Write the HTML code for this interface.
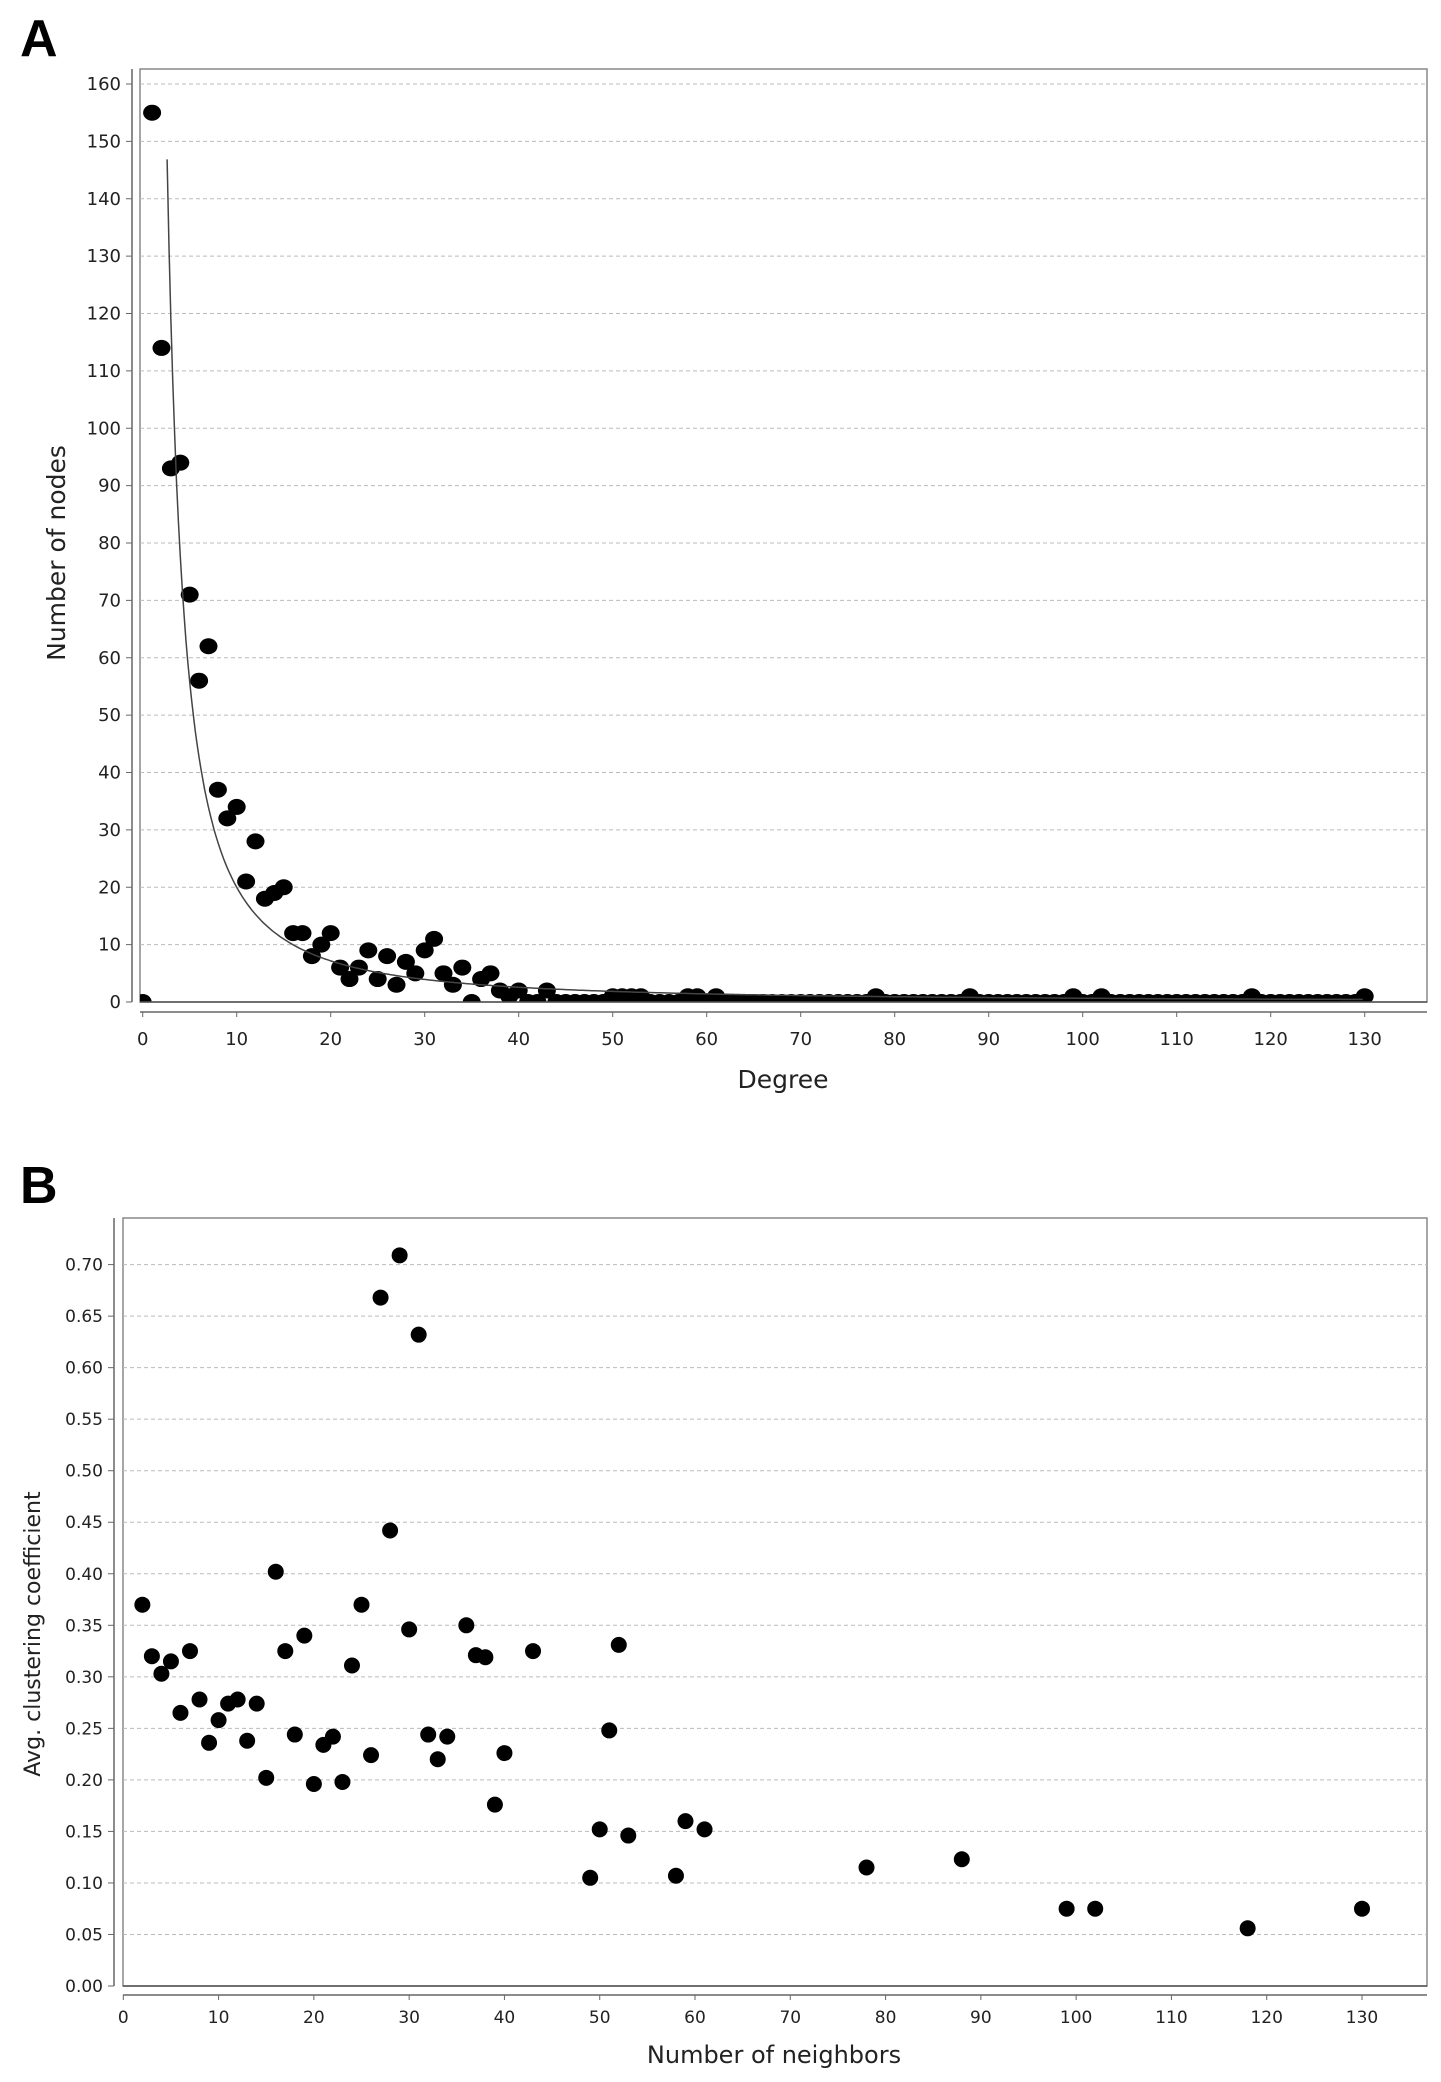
<!DOCTYPE html>
<html><head><meta charset="utf-8"><style>
html,body{margin:0;padding:0;background:#fff;}
svg{display:block;font-family:"DejaVu Sans","Liberation Sans",sans-serif;}
</style></head><body>
<svg id="s" width="1441" height="2082" viewBox="0 0 1441 2082" xmlns="http://www.w3.org/2000/svg">
<defs>
<clipPath id="clipA"><rect x="140" y="69" width="1287" height="933"/></clipPath>
<clipPath id="clipB"><rect x="123" y="1218" width="1304" height="768"/></clipPath>
</defs>
<text x="20" y="56" font-size="52" font-weight="bold" font-family="Liberation Sans, sans-serif">A</text>
<text x="20" y="1203" font-size="52" font-weight="bold" font-family="Liberation Sans, sans-serif">B</text>
<g id="ga"></g>
<g id="gb"></g>
</svg>
<script>
const degA=[0,1,2,3,4,5,6,7,8,9,10,11,12,13,14,15,16,17,18,19,20,21,22,23,24,25,26,27,28,29,30,31,32,33,34,35,36,37,38,39,40,41,42,43,44,45,46,47,48,49,50,51,52,53,54,55,56,57,58,59,60,61,62,63,64,65,66,67,68,69,70,71,72,73,74,75,76,77,78,79,80,81,82,83,84,85,86,87,88,89,90,91,92,93,94,95,96,97,98,99,100,101,102,103,104,105,106,107,108,109,110,111,112,113,114,115,116,117,118,119,120,121,122,123,124,125,126,127,128,129,130];
const countA=[0,155,114,93,94,71,56,62,37,32,34,21,28,18,19,20,12,12,8,10,12,6,4,6,9,4,8,3,7,5,9,11,5,3,6,0,4,5,2,1,2,0,0,2,0,0,0,0,0,0,1,1,1,1,0,0,0,0,1,1,0,1,0,0,0,0,0,0,0,0,0,0,0,0,0,0,0,0,1,0,0,0,0,0,0,0,0,0,1,0,0,0,0,0,0,0,0,0,0,1,0,0,1,0,0,0,0,0,0,0,0,0,0,0,0,0,0,0,1,0,0,0,0,0,0,0,0,0,0,0,1];
const fitA=[604,1.48]; // y = a * x^-b
const ticksAX=[0,10,20,30,40,50,60,70,80,90,100,110,120,130];
const ticksAY=[0,10,20,30,40,50,60,70,80,90,100,110,120,130,140,150,160];
const nbB=[2,3,4,5,6,7,8,9,10,11,12,13,14,15,16,17,18,19,20,21,22,23,24,25,26,27,28,29,30,31,32,33,34,36,37,38,39,40,43,49,50,51,52,53,58,59,61,78,88,99,102,118,130];
const ccB=[0.37,0.32,0.303,0.315,0.265,0.325,0.278,0.236,0.258,0.274,0.278,0.238,0.274,0.202,0.402,0.325,0.244,0.34,0.196,0.234,0.242,0.198,0.311,0.37,0.224,0.668,0.442,0.709,0.346,0.632,0.244,0.22,0.242,0.35,0.321,0.319,0.176,0.226,0.325,0.105,0.152,0.248,0.331,0.146,0.107,0.16,0.152,0.115,0.123,0.075,0.075,0.056,0.075];
const ticksBX=[0,10,20,30,40,50,60,70,80,90,100,110,120,130];
const ticksBY=[0,0.05,0.1,0.15,0.2,0.25,0.3,0.35,0.4,0.45,0.5,0.55,0.6,0.65,0.7];
const NS='http://www.w3.org/2000/svg';
function mk(p,t,a){const e=document.createElementNS(NS,t);for(const k in a)e.setAttribute(k,a[k]);p.appendChild(e);return e;}
// Chart A
(function(){
const g=document.getElementById('ga');
const L=140,T=69,R=1427,B=1002;
const xs=v=>142.7+v*(1364.7-142.7)/130, ys=v=>1002-v*(1002-84)/160;
let f=mk(g,'rect',{x:L,y:T,width:R-L,height:B-T,fill:'#fff',stroke:'#888','stroke-width':1.5});


ticksAY.forEach(v=>{
 let l=mk(g,'line',{x1:L,x2:R,y1:ys(v),y2:ys(v),stroke:'#bbb','stroke-dasharray':'4,3','stroke-width':1});
 
 
 mk(g,'line',{x1:126,x2:132,y1:ys(v),y2:ys(v),stroke:'#666'});
 let t=mk(g,'text',{x:121,y:ys(v)+6,'font-size':18,'text-anchor':'end',fill:'#222'});t.textContent=v;
 
 
});
mk(g,'line',{x1:132,x2:132,y1:T,y2:B,stroke:'#666','stroke-width':1.5});
mk(g,'line',{x1:L,x2:R,y1:1012,y2:1012,stroke:'#666','stroke-width':1.5});
ticksAX.forEach(v=>{
 mk(g,'line',{x1:xs(v),x2:xs(v),y1:1012,y2:1017,stroke:'#666'});
 let t=mk(g,'text',{x:xs(v),y:1045,'font-size':18,'text-anchor':'middle',fill:'#222'});t.textContent=v;
 
 
});
const cg=mk(g,'g',{'clip-path':'url(#clipA)'});
degA.forEach((d,i)=>{
 let c=mk(cg,'ellipse',{cx:xs(d),cy:ys(countA[i]),rx:9,ry:8,fill:'#000'});
 
 
});
let pts=[];for(let x=2.6;x<=130;x+=0.2){pts.push(xs(x).toFixed(1)+','+ys(fitA[0]*Math.pow(x,-fitA[1])).toFixed(1));}
let pl=mk(cg,'polyline',{points:pts.join(' '),fill:'none',stroke:'#444','stroke-width':1.5});


mk(g,'line',{x1:L,x2:R,y1:B,y2:B,stroke:'#555','stroke-width':1.5});
let xt=mk(g,'text',{x:783,y:1088,'font-size':25,'text-anchor':'middle',fill:'#222'});xt.textContent='Degree';


let yt=mk(g,'text',{x:0,y:0,'font-size':25,'text-anchor':'middle',fill:'#222',transform:'translate(65,553) rotate(-90)'});yt.textContent='Number of nodes';


})();
// Chart B
(function(){
const g=document.getElementById('gb');
const L=123,T=1218,R=1427,B=1986;
const xs=v=>123.3+v*(1362-123.3)/130, ys=v=>1986-v*(1986-1264.6)/0.7;
let f=mk(g,'rect',{x:L,y:T,width:R-L,height:B-T,fill:'#fff',stroke:'#888','stroke-width':1.5});


ticksBY.forEach(v=>{
 let l=mk(g,'line',{x1:L,x2:R,y1:ys(v),y2:ys(v),stroke:'#bbb','stroke-dasharray':'4,3','stroke-width':1});
 
 
 mk(g,'line',{x1:108,x2:114,y1:ys(v),y2:ys(v),stroke:'#666'});
 let t=mk(g,'text',{x:103,y:ys(v)+6,'font-size':17,'text-anchor':'end',fill:'#222'});t.textContent=v.toFixed(2);
 
 
});
mk(g,'line',{x1:114,x2:114,y1:T,y2:B,stroke:'#666','stroke-width':1.5});
mk(g,'line',{x1:L,x2:R,y1:1995,y2:1995,stroke:'#666','stroke-width':1.5});
ticksBX.forEach(v=>{
 mk(g,'line',{x1:xs(v),x2:xs(v),y1:1995,y2:2000,stroke:'#666'});
 let t=mk(g,'text',{x:xs(v),y:2023,'font-size':17,'text-anchor':'middle',fill:'#222'});t.textContent=v;
 
 
});
mk(g,'line',{x1:L,x2:R,y1:B,y2:B,stroke:'#555','stroke-width':1.5});
const cg=mk(g,'g',{'clip-path':'url(#clipB)'});
nbB.forEach((d,i)=>{
 let c=mk(cg,'circle',{cx:xs(d),cy:ys(ccB[i]),r:8,fill:'#000'});
 
 
});
let xt=mk(g,'text',{x:774,y:2063,'font-size':24,'text-anchor':'middle',fill:'#222'});xt.textContent='Number of neighbors';


let yt=mk(g,'text',{x:0,y:0,'font-size':22,'text-anchor':'middle',fill:'#222',transform:'translate(40,1634) rotate(-90)'});yt.textContent='Avg. clustering coefficient';


})();
</script>
</body></html>
